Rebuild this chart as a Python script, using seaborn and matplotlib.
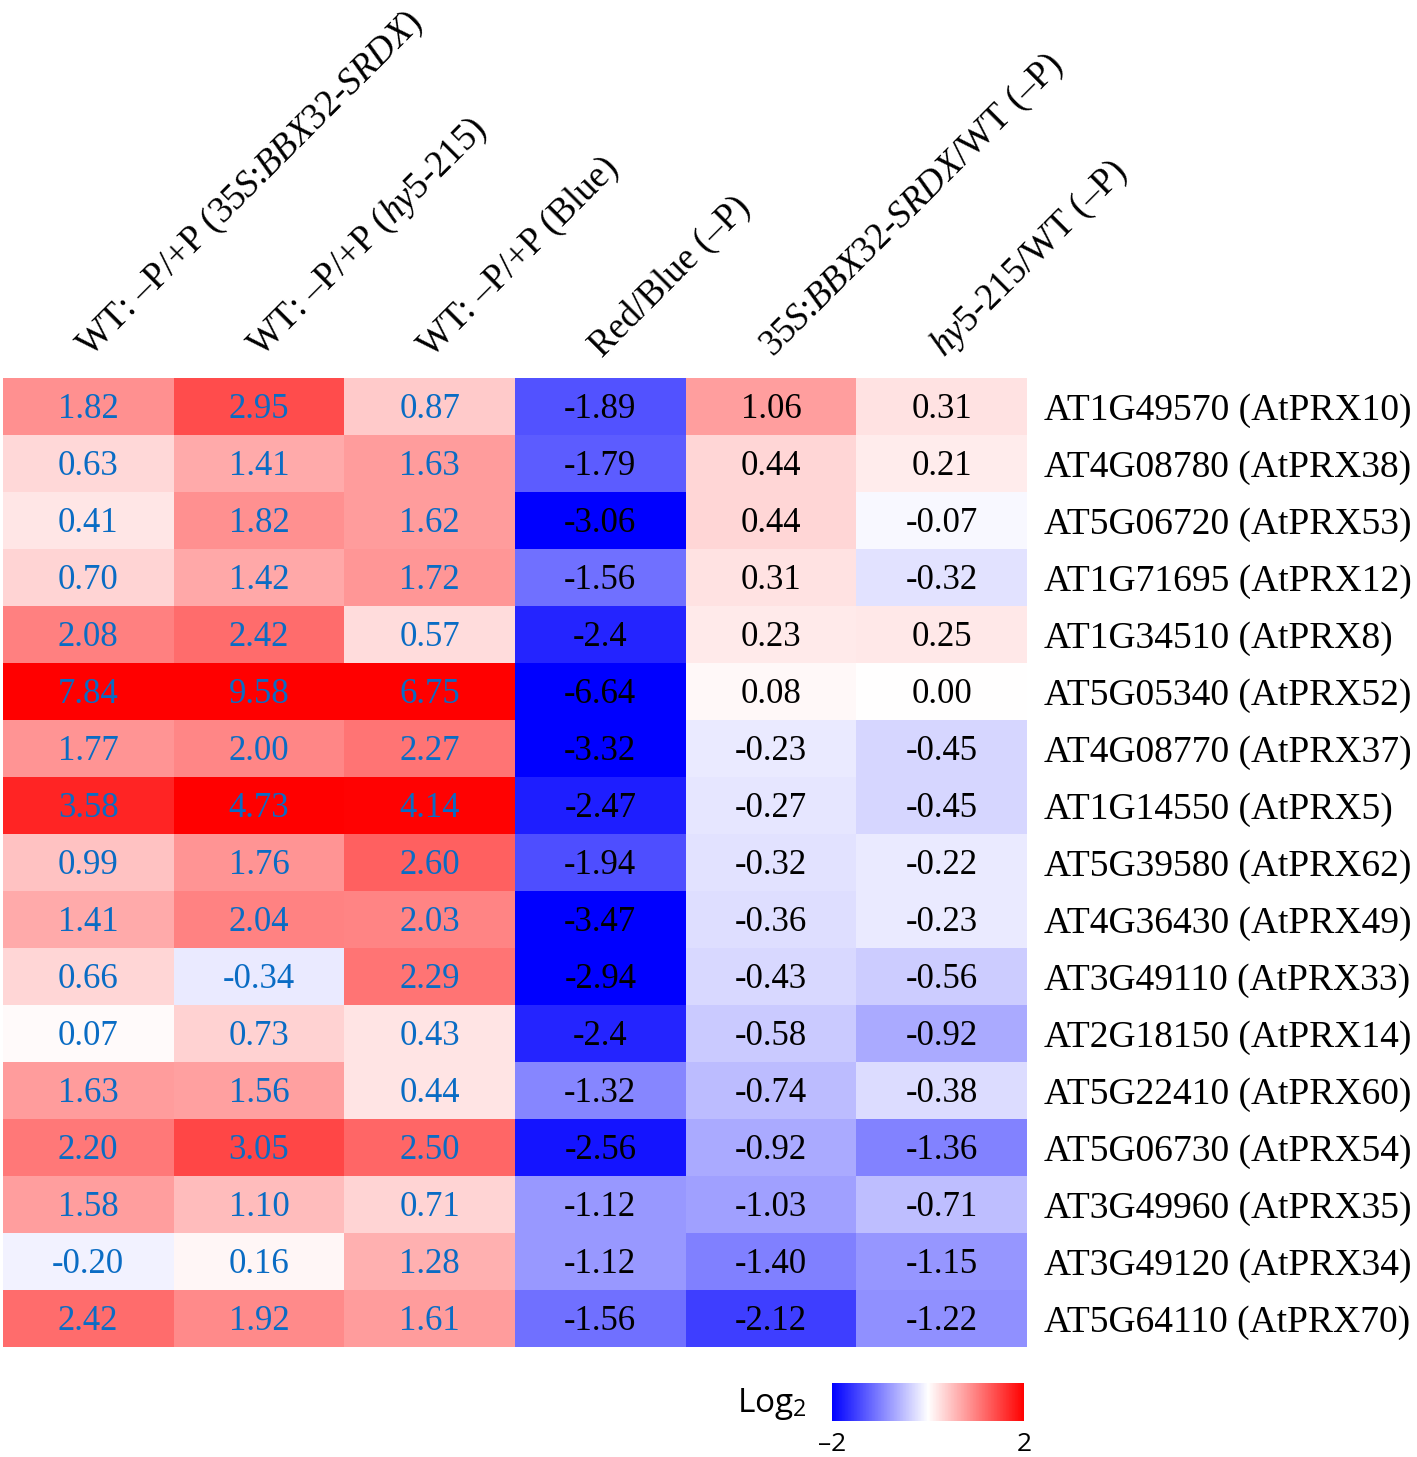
import pandas as pd
import seaborn as sns
import matplotlib.pyplot as plt
import matplotlib.transforms as mtransforms
from matplotlib.colors import LinearSegmentedColormap, Normalize
from matplotlib.cm import ScalarMappable
import numpy as np

# gene rows (top to bottom)
genes = ["AT1G49570 (AtPRX10)", "AT4G08780 (AtPRX38)", "AT5G06720 (AtPRX53)",
         "AT1G71695 (AtPRX12)", "AT1G34510 (AtPRX8)", "AT5G05340 (AtPRX52)",
         "AT4G08770 (AtPRX37)", "AT1G14550 (AtPRX5)", "AT5G39580 (AtPRX62)",
         "AT4G36430 (AtPRX49)", "AT3G49110 (AtPRX33)", "AT2G18150 (AtPRX14)",
         "AT5G22410 (AtPRX60)", "AT5G06730 (AtPRX54)", "AT3G49960 (AtPRX35)",
         "AT3G49120 (AtPRX34)", "AT5G64110 (AtPRX70)"]

# values as printed in the cells
wt_bbx32 = ["1.82", "0.63", "0.41", "0.70", "2.08", "7.84", "1.77", "3.58", "0.99",
            "1.41", "0.66", "0.07", "1.63", "2.20", "1.58", "-0.20", "2.42"]
wt_hy5 = ["2.95", "1.41", "1.82", "1.42", "2.42", "9.58", "2.00", "4.73", "1.76",
          "2.04", "-0.34", "0.73", "1.56", "3.05", "1.10", "0.16", "1.92"]
wt_blue = ["0.87", "1.63", "1.62", "1.72", "0.57", "6.75", "2.27", "4.14", "2.60",
           "2.03", "2.29", "0.43", "0.44", "2.50", "0.71", "1.28", "1.61"]
red_blue = ["-1.89", "-1.79", "-3.06", "-1.56", "-2.4", "-6.64", "-3.32", "-2.47", "-1.94",
            "-3.47", "-2.94", "-2.4", "-1.32", "-2.56", "-1.12", "-1.12", "-1.56"]
bbx32_wt = ["1.06", "0.44", "0.44", "0.31", "0.23", "0.08", "-0.23", "-0.27", "-0.32",
            "-0.36", "-0.43", "-0.58", "-0.74", "-0.92", "-1.03", "-1.40", "-2.12"]
hy5_wt = ["0.31", "0.21", "-0.07", "-0.32", "0.25", "0.00", "-0.45", "-0.45", "-0.22",
          "-0.23", "-0.56", "-0.92", "-0.38", "-1.36", "-0.71", "-1.15", "-1.22"]

col_labels = [r"WT: –P/+P ($\mathit{35S}$:$\mathit{BBX32}$-$\mathit{SRDX}$)",
              r"WT: –P/+P ($\mathit{hy5}$-$\mathit{215}$)",
              "WT: –P/+P (Blue)",
              "Red/Blue (–P)",
              r"$\mathit{35S}$:$\mathit{BBX32}$-$\mathit{SRDX}$/WT (–P)",
              r"$\mathit{hy5}$-$\mathit{215}$/WT (–P)"]

annot_df = pd.DataFrame({"c1": wt_bbx32, "c2": wt_hy5, "c3": wt_blue,
                         "c4": red_blue, "c5": bbx32_wt, "c6": hy5_wt}, index=genes)
df = annot_df.astype(float)

plt.rcParams['font.family'] = ['Liberation Serif', 'DejaVu Serif']
plt.rcParams['mathtext.fontset'] = 'custom'
plt.rcParams['mathtext.rm'] = 'Liberation Serif'
plt.rcParams['mathtext.it'] = 'Liberation Serif:italic'
plt.rcParams['mathtext.sf'] = 'Open Sans'

cmap = LinearSegmentedColormap.from_list("bwr_pure", ["#0000ff", "#ffffff", "#ff0000"])

fig = plt.figure(figsize=(14.17, 14.57), dpi=100)
ax = fig.add_axes([0.002, 0.0755, 0.7228, 0.6651])

# first three columns (WT comparisons) use a wider scale, blue text
left = np.zeros(df.shape, dtype=bool)
left[:, :3] = True
sns.heatmap(df, mask=~left, annot=annot_df, fmt="", cmap=cmap, vmin=-4.2, vmax=4.2,
            cbar=False, linewidths=0, ax=ax,
            annot_kws={"color": "#0a6cc4", "fontsize": 25})
# remaining columns, black text
sns.heatmap(df, mask=left, annot=annot_df, fmt="", cmap=cmap, vmin=-2.8, vmax=2.8,
            cbar=False, linewidths=0, ax=ax,
            annot_kws={"color": "black", "fontsize": 25})

# nudge cell numbers down slightly
for t in ax.texts:
    x, y = t.get_position()
    t.set_position((x, y + 0.05))

# gene labels on the right
ax.yaxis.tick_right()
ax.set_yticks(np.arange(len(genes)) + 0.5)
ax.set_yticklabels(genes, rotation=0, fontsize=27)
ax.tick_params(axis='y', length=0, pad=12)
ax.set_ylabel("")

# rotated column headers above the heatmap
ax.set_xticks([])
ax.set_xlabel("")
shift = mtransforms.offset_copy(ax.transData, fig=fig, x=2, y=20, units='dots')
for i, lab in enumerate(col_labels):
    ax.text(i + 0.5, 0, lab, transform=shift, rotation=45, rotation_mode='anchor',
            ha='left', va='baseline', fontsize=26.5)

# colour key
cax = fig.add_axes([0.587, 0.0247, 0.136, 0.026])
cb = fig.colorbar(ScalarMappable(norm=Normalize(-2, 2), cmap=cmap), cax=cax,
                  orientation='horizontal', ticks=[-2, 2])
cb.outline.set_visible(False)
cax.set_xticklabels(["–2", "2"], family=['Open Sans', 'DejaVu Sans'], fontsize=19)
cax.tick_params(length=0, pad=8)
cax.text(-0.13, 0.45, r"Log$_{\mathsf{2}}$", transform=cax.transAxes, ha='right',
         va='center', fontsize=24, family=['Open Sans', 'DejaVu Sans'])

plt.savefig("out.png", dpi=100)
